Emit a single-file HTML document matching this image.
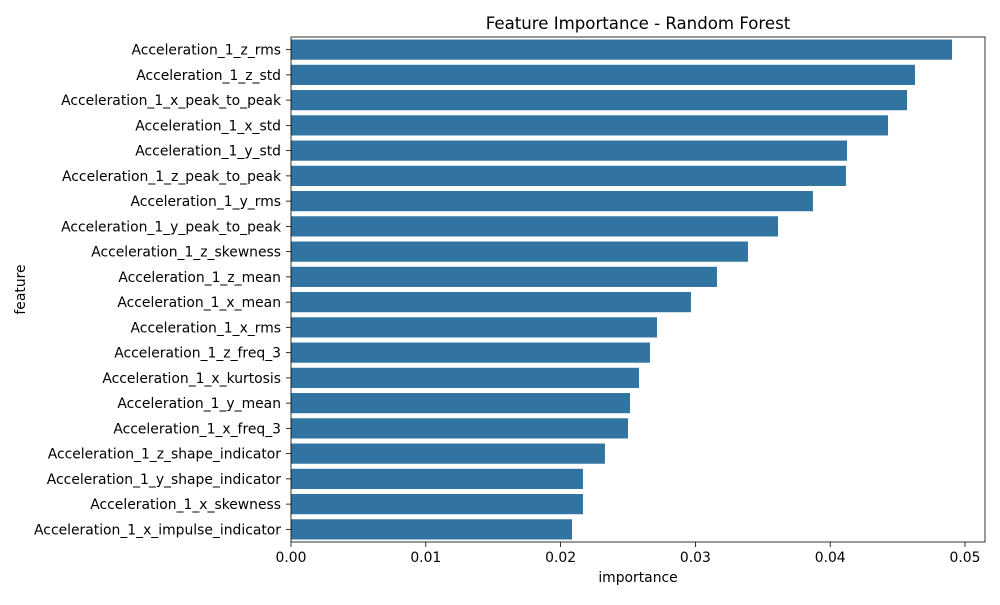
<!DOCTYPE html>
<html><head><meta charset="utf-8"><style>
body{margin:0;background:#fff;}
svg text{font-family:"DejaVu Sans",sans-serif;fill:#000;}
</style></head><body>
<svg id="chart" width="1000" height="600"></svg>
<script>
const categories=["Acceleration_1_z_rms","Acceleration_1_z_std","Acceleration_1_x_peak_to_peak","Acceleration_1_x_std","Acceleration_1_y_std","Acceleration_1_z_peak_to_peak","Acceleration_1_y_rms","Acceleration_1_y_peak_to_peak","Acceleration_1_z_skewness","Acceleration_1_z_mean","Acceleration_1_x_mean","Acceleration_1_x_rms","Acceleration_1_z_freq_3","Acceleration_1_x_kurtosis","Acceleration_1_y_mean","Acceleration_1_x_freq_3","Acceleration_1_z_shape_indicator","Acceleration_1_y_shape_indicator","Acceleration_1_x_skewness","Acceleration_1_x_impulse_indicator"];
const importance=[0.04904,0.04629,0.04570,0.04429,0.04125,0.04117,0.03872,0.03613,0.03390,0.03160,0.02967,0.02715,0.02663,0.02582,0.02515,0.02500,0.02329,0.02166,0.02166,0.02085];
const xTicks=[0,0.01,0.02,0.03,0.04,0.05];
const xTickLabels=["0.00","0.01","0.02","0.03","0.04","0.05"];

const NS="http://www.w3.org/2000/svg";
const svg=document.getElementById('chart');
const L=291,R=985,T=37,B=542;
const xScale=v=>L+v/0.05*(965-L);
const band=(B-T)/categories.length;
const yScale=i=>T+band*i;
function mk(tag,attrs,parent){const e=document.createElementNS(NS,tag);for(const k in attrs)e.setAttribute(k,attrs[k]);(parent||svg).appendChild(e);return e;}

categories.forEach((c,i)=>{
  const r=mk('rect',{x:L,y:yScale(i)+band*0.1,width:xScale(importance[i])-L,height:band*0.8,fill:'#3274a1'});
  
  
  mk('line',{x1:L-5,x2:L,y1:yScale(i)+band/2,y2:yScale(i)+band/2,stroke:'#000','stroke-width':0.8});
  const t=mk('text',{x:L-10,y:yScale(i)+band/2+5,'text-anchor':'end','font-size':13.9});
  t.textContent=c;
  
  
});
xTicks.forEach((v,i)=>{
  const x=xScale(v);
  mk('line',{x1:x,x2:x,y1:B,y2:B+5,stroke:'#000','stroke-width':0.8});
  const t=mk('text',{x:x,y:B+20,'text-anchor':'middle','font-size':13.9});
  t.textContent=xTickLabels[i];
  
  
});
mk('rect',{x:L,y:T,width:R-L,height:B-T,fill:'none',stroke:'#000','stroke-width':0.8});
const title=mk('text',{x:(L+R)/2,y:29,'text-anchor':'middle','font-size':16.6});
title.textContent='Feature Importance - Random Forest';


const xl=mk('text',{x:(L+R)/2,y:582,'text-anchor':'middle','font-size':13.9});
xl.textContent='importance';


const yl=mk('text',{x:0,y:0,'text-anchor':'middle','font-size':13.9,transform:'translate(25,'+((T+B)/2)+') rotate(-90)'});
yl.textContent='feature';


</script>
</body></html>
